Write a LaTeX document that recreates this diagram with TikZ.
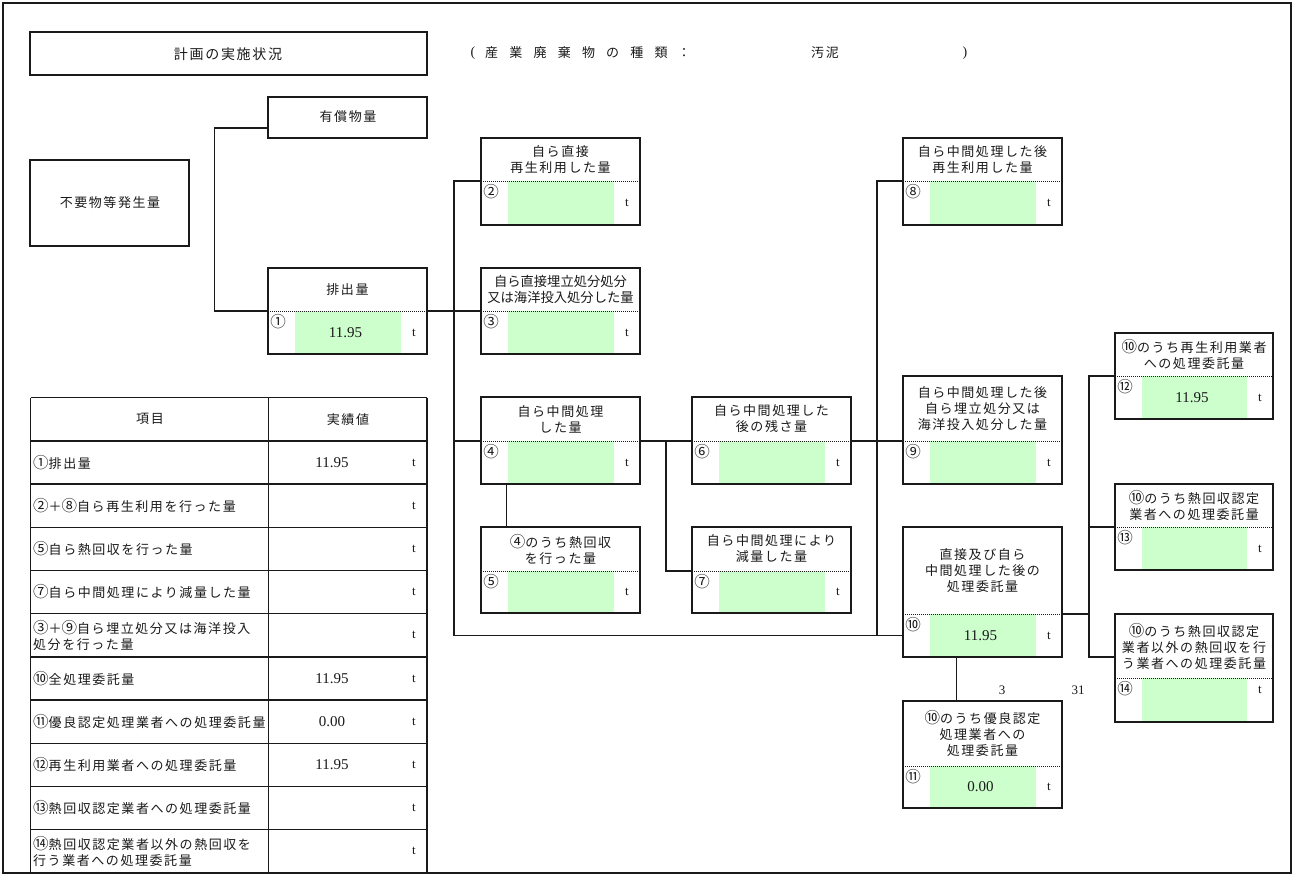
\documentclass[tikz,border=0pt]{standalone}
\usepackage{fontspec}
\setmainfont{Liberation Serif}
\newfontfamily\jp[LetterSpace=12]{Noto Sans CJK JP}
\newfontfamily\jpn{Noto Sans CJK JP}
\usetikzlibrary{fit}
\definecolor{gfill}{HTML}{CCFFCC}
\definecolor{ink}{HTML}{1A1A1A}
\def\tdy{0}
\newcommand\cn[1]{{\jpn\fontsize{15.5}{16}\selectfont#1}}
\tikzset{
  boxst/.style={draw=ink, line width=1.5pt, inner sep=0pt},
  jptext/.style={font=\jp\fontsize{13}{16}\selectfont, align=center, inner sep=0pt, text=ink},
  jptight/.style={font=\jpn\fontsize{13.3}{16}\selectfont, align=center, inner sep=0pt, text=ink},
  jpleft/.style={font=\jp\fontsize{13}{16}\selectfont, align=left, inner sep=0pt, text=ink, anchor=west},
  numst/.style={font=\jpn\fontsize{15.5}{16}\selectfont, inner sep=0pt, text=ink},
  valst/.style={font=\fontsize{15}{18}\selectfont, inner sep=0pt, text=ink},
  tst/.style={font=\fontsize{13}{16}\selectfont, inner sep=0pt, text=ink},
  dotline/.style={draw=ink, line width=1pt, dash pattern=on 1pt off 1pt},
  conn/.style={draw=ink, line width=1.1pt},
  thickconn/.style={draw=ink, line width=2.3pt},
  gridline/.style={draw=ink, line width=1.4pt},
}
\newcommand\dbox[9]{%
  \fill[gfill] ({#2+27},{#6}) rectangle ({#4-26},{#5});
  \draw[dotline] (#2,#6) -- (#4,#6);
  \coordinate (#1-nw) at (#2,#3);
  \coordinate (#1-se) at (#4,#5);
  \node[boxst, fit=(#1-nw)(#1-se)] (#1) {};
  \coordinate (#1-dl) at (#2,#6);
  \coordinate (#1-dr) at (#4,#6);
  \coordinate (#1-vl) at (#2,{(#6+#5)/2});
  \node[jptext] (#1-h) at ({(#2+#4)/2},{(#3+#6)/2}) {#8};
  \node[numst] (#1-n) at ({#2+10},{#6+11}) {#7};
  \node[valst] (#1-v) at ({(#2+#4)/2-2},{(#6+#5)/2}) {#9};
  \node[tst] (#1-t) at ({#4-13},{(#6+#5)/2+\tdy}) {t};
}
\begin{document}
\begin{tikzpicture}[x=1pt,y=-1pt]
\useasboundingbox (0,0) rectangle (1293,875);
\fill[white] (0,0) rectangle (1293,875);
% outer frame
\draw[draw=ink, line width=1.3pt] (3,3) rectangle (1291,873);

% title
\coordinate (ti-nw) at (30,32);
\coordinate (ti-se) at (427,75);
\node[boxst, fit=(ti-nw)(ti-se)] (title) {};
\node[jptext, font=\jp\fontsize{14}{16}\selectfont] (titletext) at (228,54) {計画の実施状況};

% kind of waste
\node[valst, font=\fontsize{14}{16}\selectfont] (kp1) at (473,53) {(};
\foreach \c [count=\i] in {産,業,廃,棄,物,の,種,類} {
  \node[jptext, font=\jpn\fontsize{13}{16}\selectfont] (k\i) at ({491.7+24.2*(\i-1)},53) {\c};
}
\node[jptext, font=\jpn\fontsize{13}{16}\selectfont] (kcolon) at (684,53) {：};
\node[jptext] (kind) at (825,53) {汚泥};
\node[valst, font=\fontsize{14}{16}\selectfont] (kp2) at (965,53) {)};

% simple boxes
\coordinate (yu-nw) at (268,97);
\coordinate (yu-se) at (427,138);
\node[boxst, fit=(yu-nw)(yu-se)] (yu) {};
\node[jptext] (yu-h) at (348,117) {有償物量};
\coordinate (fu-nw) at (30,160);
\coordinate (fu-se) at (189,246);
\node[boxst, fit=(fu-nw)(fu-se)] (fu) {};
\node[jptext] (fu-h) at (110,203) {不要物等発生量};

% data boxes
\dbox{b1}{268}{268}{427}{354}{311}{①}{排出量}{11.95}
\dbox{b2}{481}{138}{640}{225}{181}{②}{自ら直接\\再生利用した量}{}
\fill[gfill] (508,311) rectangle (614,354);
\draw[dotline] (481,311) -- (640,311);
\coordinate (b3-nw) at (481,268);
\coordinate (b3-se) at (640,354);
\node[boxst, fit=(b3-nw)(b3-se)] (b3) {};
\coordinate (b3-dl) at (481,311);
\node[jptight] (b3-h) at (560.5,289.5) {自ら直接埋立処分処分\\又は海洋投入処分した量};
\node[numst] (b3-n) at (491,322) {③};
\node[tst] (b3-t) at (627,332.5) {t};
\dbox{b4}{481}{397}{640}{484}{441}{④}{自ら中間処理\\した量}{}
\dbox{b5}{481}{527}{640}{613}{571}{⑤}{\cn{④}のうち熱回収\\を行った量}{}
\dbox{b6}{692}{397}{851}{484}{441}{⑥}{自ら中間処理した\\後の残さ量}{}
\dbox{b7}{692}{527}{851}{613}{571}{⑦}{自ら中間処理により\\減量した量}{}
\dbox{b8}{903}{138}{1062}{225}{181}{⑧}{自ら中間処理した後\\再生利用した量}{}
\dbox{b9}{903}{376}{1062}{484}{441}{⑨}{自ら中間処理した後\\自ら埋立処分又は\\海洋投入処分した量}{}
\dbox{b10}{903}{527}{1062}{657}{614}{⑩}{直接及び自ら\\中間処理した後の\\処理委託量}{11.95}
\dbox{b11}{903}{701}{1062}{808}{766}{⑪}{\cn{⑩}のうち優良認定\\処理業者への\\処理委託量}{0.00}
\dbox{b12}{1115}{333}{1273}{419}{376}{⑫}{\cn{⑩}のうち再生利用業者\\への処理委託量}{11.95}
\dbox{b13}{1115}{484}{1273}{570}{527}{⑬}{\cn{⑩}のうち熱回収認定\\業者への処理委託量}{}
\def\tdy{-10}
\dbox{b14}{1115}{614}{1273}{722}{678}{⑭}{\cn{⑩}のうち熱回収認定\\業者以外の熱回収を行\\う業者への処理委託量}{}
\def\tdy{0}

% connectors
\draw[conn] ([yshift=-10.5pt]yu.west) -- ++(-53,0) |- (b1-dl);
\draw[thickconn] (b1-dl) -- ++(-53,0);
\coordinate (busA) at (454,0);
\draw[conn] (b1-dr) -- (b3-dl);
\draw[conn] (b2-dl) -- (b2-dl -| busA) -- (b10-vl -| busA) -- (b10-vl);
\draw[conn] (b4-dl) -- (b4-dl -| busA);
\draw[thickconn] (b4-dr) -- (b6-dl);
\coordinate (busT) at (666,0);
\draw[thickconn] (b4-dr -| busT) |- (b7-dl);
\draw[conn] ([xshift=26pt]b4.south west) -- ([xshift=26pt]b5.north west);
\coordinate (busB) at (877,0);
\draw[conn] (b8-dl) -- (b8-dl -| busB) -- (b10-vl -| busB);
\draw[conn] (b6-dr) -- (b9-dl);
\coordinate (busC) at (1089,0);
\coordinate (b14-hl) at (1115,657);
\draw[conn] (b12-dl) -- (b12-dl -| busC) -- (b14-hl -| busC) -- (b14-hl);
\draw[conn] (b13-dl) -- (b13-dl -| busC);
\draw[conn] (b10-dr) -- (b10-dr -| busC);
\draw[conn] ([xshift=54pt]b10.south west) -- ([xshift=54pt]b11.north west);

\node[tst] (lab3) at (1002,690) {3};
\node[tst] (lab31) at (1078,690) {31};

% table
\foreach \k in {0,...,10} {
  \draw[gridline] (30.7,{397.7+43.2*\k}) -- (427,{397.7+43.2*\k});
}
\draw[gridline] (30.7,397.7) -- (30.7,873);
\draw[gridline] (268.7,397.7) -- (268.7,873);
\draw[gridline] (427,397.7) -- (427,873);
\node[jptext] (th1) at (150,419.3) {項目};
\node[jptext] (th2) at (348,419.3) {実績値};
\node[jpleft] (r1) at (33,462.5) {\cn{①}排出量};
\node[jpleft] (r2) at (33,505.7) {\cn{②}＋\cn{⑧}自ら再生利用を行った量};
\node[jpleft] (r3) at (33,548.9) {\cn{⑤}自ら熱回収を行った量};
\node[jpleft] (r4) at (33,592.1) {\cn{⑦}自ら中間処理により減量した量};
\node[jpleft] (r5) at (33,635.3) {\cn{③}＋\cn{⑨}自ら埋立処分又は海洋投入\\処分を行った量};
\node[jpleft] (r6) at (33,678.5) {\cn{⑩}全処理委託量};
\node[jpleft] (r7) at (33,721.7) {\cn{⑪}優良認定処理業者への処理委託量};
\node[jpleft] (r8) at (33,764.9) {\cn{⑫}再生利用業者への処理委託量};
\node[jpleft] (r9) at (33,808.1) {\cn{⑬}熱回収認定業者への処理委託量};
\node[jpleft] (r10) at (33,851.3) {\cn{⑭}熱回収認定業者以外の熱回収を\\行う業者への処理委託量};
\node[valst] (v1) at (332,462.5) {11.95};
\node[valst] (v6) at (332,678.5) {11.95};
\node[valst] (v7) at (332,721.7) {0.00};
\node[valst] (v8) at (332,764.9) {11.95};
\foreach \k in {1,...,10} {
  \node[tst] (tu\k) at (414,{419.3+43.2*\k}) {t};
}
\end{tikzpicture}
\end{document}
